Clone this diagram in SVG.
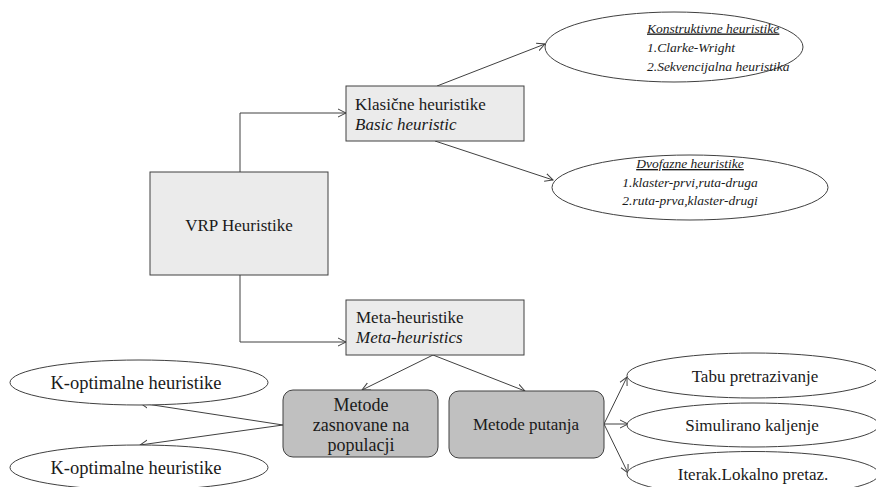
<svg xmlns="http://www.w3.org/2000/svg" width="876" height="487" viewBox="0 0 876 487">
<style>
.box{fill:#ebebeb;stroke:#404040;stroke-width:1}
.rbox{fill:#c0c0c0;stroke:#404040;stroke-width:1}
.ell{fill:#ffffff;stroke:#404040;stroke-width:1}
.t{font-family:"Liberation Serif","Times New Roman",serif;font-size:17px;fill:#1a1a1a}
.b{font-size:18px}
.k{font-size:18.5px}
.i{font-style:italic}
.s{font-family:"Liberation Serif","Times New Roman",serif;font-size:13.5px;font-style:italic;fill:#1a1a1a}
.c{text-anchor:middle}
.u{text-decoration:underline}
.ln{fill:none;stroke:#404040;stroke-width:1;marker-end:url(#ar)}
</style>
<defs>
<marker id="ar" markerUnits="userSpaceOnUse" markerWidth="10" markerHeight="10" refX="8" refY="4" orient="auto" viewBox="0 0 10 8">
<path d="M0,0 L8,4 L0,8" fill="none" stroke="#404040" stroke-width="1"/>
</marker>
</defs>
<rect width="876" height="487" fill="#ffffff"/>
<g id="connectors">
<path class="ln" d="M240,172 V113 H346"/>
<path class="ln" d="M240,275 V342 H346"/>
<path class="ln" d="M437,86 L545,44"/>
<path class="ln" d="M435,141 L553,180"/>
<path class="ln" d="M433,355 L362,390"/>
<path class="ln" d="M433,355 L525,391"/>
<path class="ln" d="M283,425 L140,403"/>
<path class="ln" d="M283,425 L140,445"/>
<path class="ln" d="M604,424 L627,377"/>
<path class="ln" d="M604,424 L628,424"/>
<path class="ln" d="M604,424 L628,473"/>
</g>
<g id="vrp">
<rect class="box" x="150" y="172" width="178" height="103"/>
<text class="t c" x="239" y="231">VRP Heuristike</text>
</g>
<g id="klasicne">
<rect class="box" x="346" y="86" width="178" height="55"/>
<text class="t" x="355" y="110">Klasične heuristike</text>
<text class="t i" x="355" y="130">Basic heuristic</text>
</g>
<g id="meta">
<rect class="box" x="346" y="300" width="178" height="55"/>
<text class="t" x="356" y="323">Meta-heuristike</text>
<text class="t i" x="356" y="343">Meta-heuristics</text>
</g>
<g id="konstruktivne">
<ellipse class="ell" cx="674" cy="47" rx="129" ry="35"/>
<text class="s u" x="647" y="32.5">Konstruktivne heuristike</text>
<text class="s" x="647" y="51.5">1.Clarke-Wright</text>
<text class="s" x="647" y="70.5">2.Sekvencijalna heuristika</text>
</g>
<g id="dvofazne">
<ellipse class="ell" cx="690" cy="187.5" rx="138" ry="32.5"/>
<text class="s c u" x="690" y="168">Dvofazne heuristike</text>
<text class="s c" x="690" y="186.5">1.klaster-prvi,ruta-druga</text>
<text class="s c" x="690" y="205">2.ruta-prva,klaster-drugi</text>
</g>
<g id="populacija">
<rect class="rbox" x="283" y="390" width="155" height="67" rx="10"/>
<text class="t b c" x="361" y="411">Metode</text>
<text class="t b c" x="361" y="431">zasnovane na</text>
<text class="t b c" x="361" y="451">populacji</text>
</g>
<g id="putanja">
<rect class="rbox" x="449" y="391" width="155" height="67" rx="10"/>
<text class="t c" x="526" y="430">Metode putanja</text>
</g>
<g id="kopt1">
<ellipse class="ell" cx="139" cy="382.5" rx="129" ry="22.5"/>
<text class="t k c" x="136" y="389">K-optimalne heuristike</text>
</g>
<g id="kopt2">
<ellipse class="ell" cx="139" cy="467.5" rx="129" ry="22.5"/>
<text class="t k c" x="136" y="474">K-optimalne heuristike</text>
</g>
<g id="tabu">
<ellipse class="ell" cx="753" cy="375.5" rx="126" ry="22.5"/>
<text class="t c" x="755" y="381.5">Tabu pretrazivanje</text>
</g>
<g id="simulirano">
<ellipse class="ell" cx="753" cy="425" rx="126" ry="22"/>
<text class="t c" x="752" y="431">Simulirano kaljenje</text>
</g>
<g id="iterak">
<ellipse class="ell" cx="753" cy="474" rx="126" ry="22.5"/>
<text class="t c" x="753" y="480">Iterak.Lokalno pretaz.</text>
</g>
</svg>
